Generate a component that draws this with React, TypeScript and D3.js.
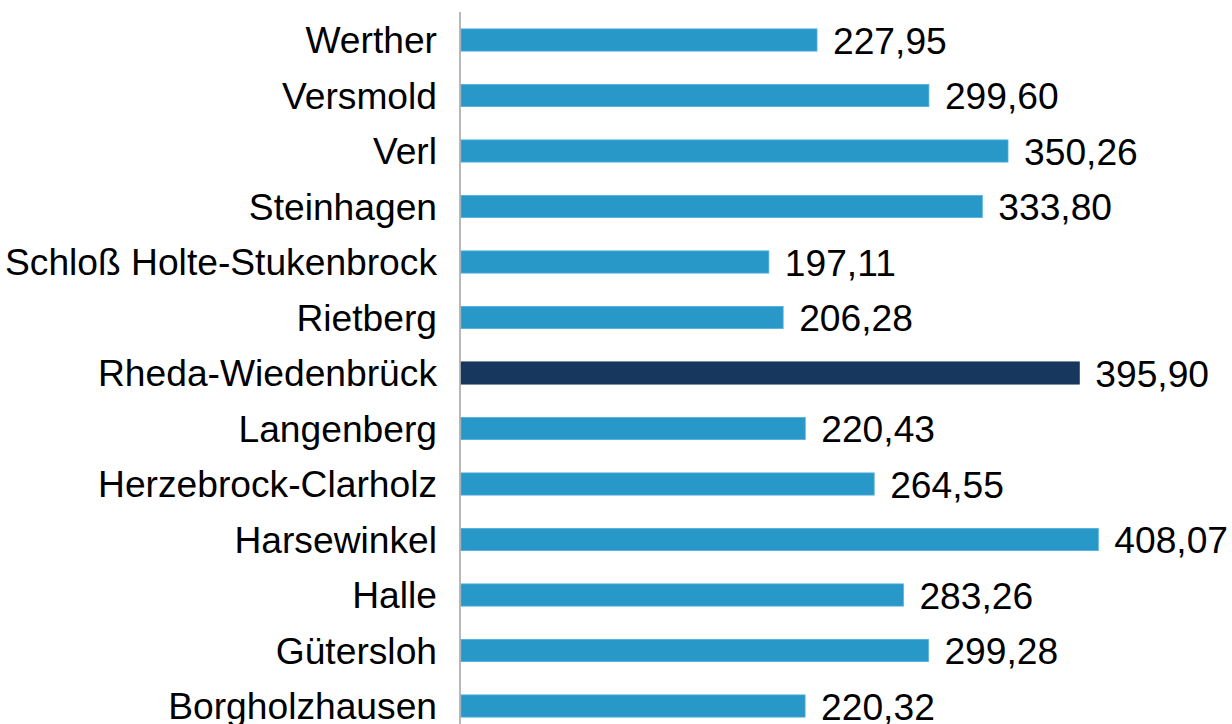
import React from "react";
import * as d3 from "d3";

// Gemeinden, von oben nach unten
const towns = [
  "Werther",
  "Versmold",
  "Verl",
  "Steinhagen",
  "Schloß Holte-Stukenbrock",
  "Rietberg",
  "Rheda-Wiedenbrück",
  "Langenberg",
  "Herzebrock-Clarholz",
  "Harsewinkel",
  "Halle",
  "Gütersloh",
  "Borgholzhausen",
];
const values = [
  227.95, 299.6, 350.26, 333.8, 197.11, 206.28, 395.9, 220.43, 264.55, 408.07,
  283.26, 299.28, 220.32,
];
const highlight = ["Rheda-Wiedenbrück"];

const W = 1232;
const H = 724;
const axisX = 460;

const fmt = (v: number) => d3.format(".2f")(v).replace(".", ",");

export default function App() {
  const y = d3
    .scaleBand<string>()
    .domain(towns)
    .range([12.25, 733.75])
    .paddingInner(0.6)
    .paddingOuter(0.3);

  const x = d3.scaleLinear().domain([0, 227.95]).range([axisX + 1, 817]);

  return (
    <svg
      width={W}
      height={H}
      style={{ position: "absolute", left: 0, top: 0, background: "#fff" }}
      fontFamily="'Liberation Sans', Arial, sans-serif"
    >
      {towns.map((t, i) => {
        const yc = y(t)! + y.bandwidth() / 2;
        const dark = highlight.includes(t);
        return (
          <g key={t}>
            <rect
              x={x(0)}
              y={y(t)}
              width={x(values[i]) - x(0)}
              height={y.bandwidth()}
              fill={dark ? "#17375e" : "#2898c9"}
              stroke={dark ? "#17375e" : "#4fb0dc"}
              strokeWidth={0.8}
            />
            <text
              x={axisX - 23}
              y={yc}
              dy="0.35em"
              textAnchor="end"
              fontSize={37.2}
              fill="#000"
            >
              {t}
            </text>
            <text
              x={x(values[i]) + 16}
              y={yc}
              dy="0.37em"
              fontSize={37.2}
              fill="#000"
            >
              {fmt(values[i])}
            </text>
          </g>
        );
      })}
      <line
        x1={axisX}
        x2={axisX}
        y1={12}
        y2={H}
        stroke="#a0a0a0"
        strokeWidth={1.5}
      />
    </svg>
  );
}
